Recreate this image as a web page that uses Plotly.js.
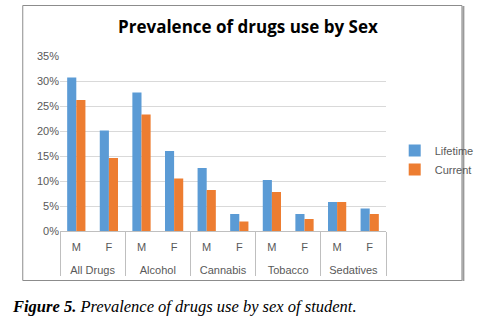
<!DOCTYPE html>
<html><head><meta charset="utf-8">
<script src="https://cdn.plot.ly/plotly-3.0.1.min.js"></script>
<style>html,body{margin:0;padding:0;background:#fff;}#c{width:491px;height:329px;}</style>
</head><body><div id="c"></div>
<script>
const groups = ["All Drugs","All Drugs","Alcohol","Alcohol","Cannabis","Cannabis","Tobacco","Tobacco","Sedatives","Sedatives"];
const sexes = ["M","F","M","F","M","F","M","F","M","F"];
const lifetime = [30.7, 20.1, 27.7, 16.0, 12.6, 3.4, 10.2, 3.4, 5.8, 4.5];
const current = [26.2, 14.6, 23.3, 10.5, 8.2, 1.9, 7.8, 2.4, 5.8, 3.4];
const yTicks = [0,5,10,15,20,25,30,35];

const L=60, R=94, T=56, B=98, W=491, H=329;
const pw = W-L-R, ph = H-T-B;
const px = v => (v-L)/pw, py = v => (H-B-v)/ph;

const font = {family:"Liberation Sans, Arial, sans-serif", size:11, color:"#595959"};
const groupLabels = groups.map(g => "<br>" + g);
const data = [
  {type:"bar", name:"Lifetime", x:[groupLabels, sexes], y:lifetime, marker:{color:"#5B9BD5"}},
  {type:"bar", name:"Current", x:[groupLabels, sexes], y:current, marker:{color:"#ED7D31"}}
];
const layout = {
  width:W, height:H, margin:{l:L,r:R,t:T,b:B},
  paper_bgcolor:"#fff", plot_bgcolor:"#fff",
  font:font, barmode:"group", bargap:0.44, bargroupgap:0,
  title:{text:"<b>Prevalence of drugs use by Sex</b>", font:{family:"Open Sans, Liberation Sans, sans-serif", size:17, color:"#000"}, x:0.505, xanchor:"center", y:1-27/H, yanchor:"middle"},
  xaxis:{type:"multicategory", showgrid:false, showline:true, linecolor:"#bfbfbf", linewidth:1,
         showdividers:true, dividercolor:"#bfbfbf", dividerwidth:1, tickfont:font, ticks:"", ticklabelstandoff:6},
  yaxis:{range:[0,35], tickvals:yTicks, ticktext:yTicks.map(v=>v+"%"), gridcolor:"#d9d9d9", gridwidth:1,
         showline:false, zeroline:false, tickfont:font, ticks:"", ticklen:0},
  legend:{x:px(406), y:py(136), xanchor:"left", yanchor:"top", font:font, bgcolor:"rgba(0,0,0,0)", itemwidth:30},
  showlegend:true,
  shapes:[{type:"rect", xref:"paper", yref:"paper", x0:px(21.5), x1:px(475.5), y0:py(280.5), y1:py(5.5), line:{color:"#8c8c8c", width:1}, layer:"below"},
          {type:"line", xref:"paper", yref:"paper", x0:px(477), x1:px(477), y0:py(281), y1:py(6), line:{color:"#9a9a9a", width:2}}],
  annotations:[{xref:"paper", yref:"paper", x:px(8), y:py(306), xanchor:"left", yanchor:"middle", showarrow:false,
    text:"<b><i>Figure 5.</i></b><i> Prevalence of drugs use by sex of student.</i>",
    font:{family:"Liberation Serif, Times New Roman, serif", size:16.5, color:"#000"}}]
};
Plotly.newPlot("c", data, layout, {displayModeBar:false, staticPlot:true});
</script></body></html>
